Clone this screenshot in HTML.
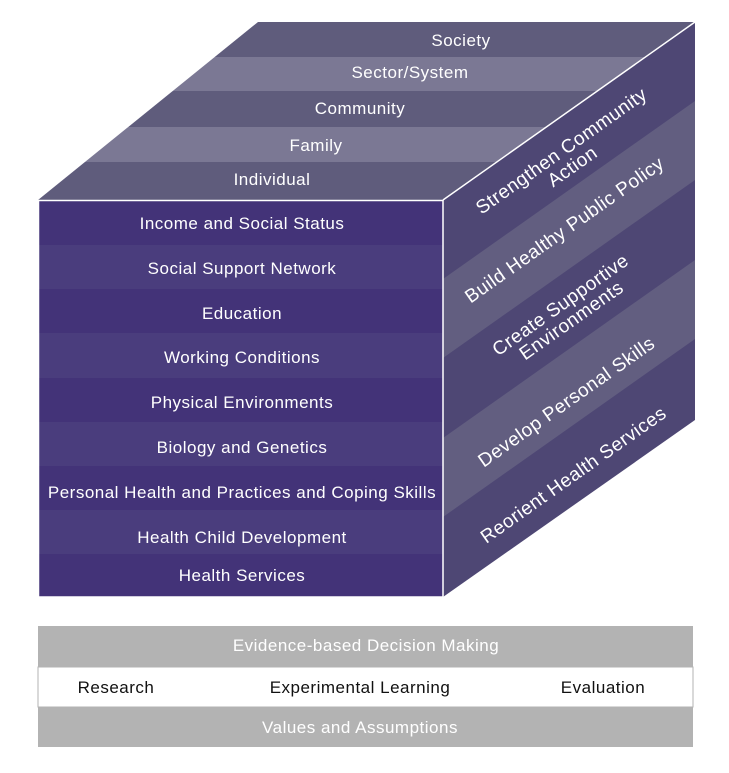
<!DOCTYPE html>
<html><head><meta charset="utf-8">
<style>
html,body{margin:0;padding:0;background:#fff;}
svg{display:block;}
text{font-family:"Liberation Sans",sans-serif;letter-spacing:0.5px;}
</style></head>
<body>
<svg width="729" height="773" viewBox="0 0 729 773" xmlns="http://www.w3.org/2000/svg">
<defs>
  <clipPath id="top"><polygon points="38,200 258,22 695,22 443,200"/></clipPath>
  <clipPath id="right"><polygon points="443,200 695,22 695,420 443,597"/></clipPath>
</defs>
<g clip-path="url(#top)">
  <rect x="0" y="22" width="729" height="35" fill="#5f5c7c"/>
  <rect x="0" y="57" width="729" height="34" fill="#7b7894"/>
  <rect x="0" y="91" width="729" height="36" fill="#5f5c7c"/>
  <rect x="0" y="127" width="729" height="35" fill="#7b7894"/>
  <rect x="0" y="162" width="729" height="38" fill="#5f5c7c"/>
</g>
<g fill="#fff" font-size="17" text-anchor="middle">
  <text x="461" y="46">Society</text>
  <text x="410" y="78">Sector/System</text>
  <text x="360" y="114">Community</text>
  <text x="316" y="151">Family</text>
  <text x="272" y="185">Individual</text>
</g>
<g clip-path="url(#right)">
  <rect x="400" y="0" width="329" height="773" fill="#4e4774"/>
  <polygon points="443,279 695,101 695,180 443,358" fill="#625e80"/>
  <polygon points="443,438 695,260 695,339 443,517" fill="#625e80"/>
</g>
<line x1="443" y1="200" x2="695" y2="22" stroke="#fff" stroke-width="1.5"/>
<g fill="#fff" font-size="19" text-anchor="middle" style="letter-spacing:1px">
  <g transform="translate(565,156) rotate(-35.2)">
    <text x="0" y="0">Strengthen Community</text>
    <text x="0" y="19">Action</text>
  </g>
  <text transform="translate(568,235) rotate(-35.2)">Build Healthy Public Policy</text>
  <g transform="translate(564,310) rotate(-35.2)">
    <text x="0" y="0">Create Supportive</text>
    <text x="0" y="19">Environments</text>
  </g>
  <text transform="translate(570,407) rotate(-35.2)">Develop Personal Skills</text>
  <text transform="translate(577,480) rotate(-35.2)">Reorient Health Services</text>
</g>
<rect x="38" y="200" width="405" height="397" fill="#433378"/>
<rect x="38" y="245" width="405" height="44" fill="#4a3d7d"/>
<rect x="38" y="333" width="405" height="45" fill="#4a3d7d"/>
<rect x="38" y="422" width="405" height="44" fill="#4a3d7d"/>
<rect x="38" y="510" width="405" height="44" fill="#4a3d7d"/>
<rect x="38.5" y="200.5" width="404.5" height="396.5" fill="none" stroke="#fff" stroke-width="1.5"/>
<g fill="#fff" font-size="17" text-anchor="middle">
  <text x="242" y="229">Income and Social Status</text>
  <text x="242" y="274">Social Support Network</text>
  <text x="242" y="319">Education</text>
  <text x="242" y="363">Working Conditions</text>
  <text x="242" y="408">Physical Environments</text>
  <text x="242" y="453">Biology and Genetics</text>
  <text x="242" y="498">Personal Health and Practices and Coping Skills</text>
  <text x="242" y="543">Health Child Development</text>
  <text x="242" y="581">Health Services</text>
</g>
<rect x="38" y="626" width="655" height="41" fill="#b3b3b3"/>
<rect x="38" y="667" width="655" height="40" fill="#fff" stroke="#b3b3b3"/>
<rect x="38" y="707" width="655" height="40" fill="#b3b3b3"/>
<g font-size="17" text-anchor="middle">
  <text x="366" y="651" fill="#fff">Evidence-based Decision Making</text>
  <text x="116" y="693" fill="#111">Research</text>
  <text x="360" y="693" fill="#111">Experimental Learning</text>
  <text x="603" y="693" fill="#111">Evaluation</text>
  <text x="360" y="733" fill="#fff">Values and Assumptions</text>
</g>
</svg>
</body></html>
